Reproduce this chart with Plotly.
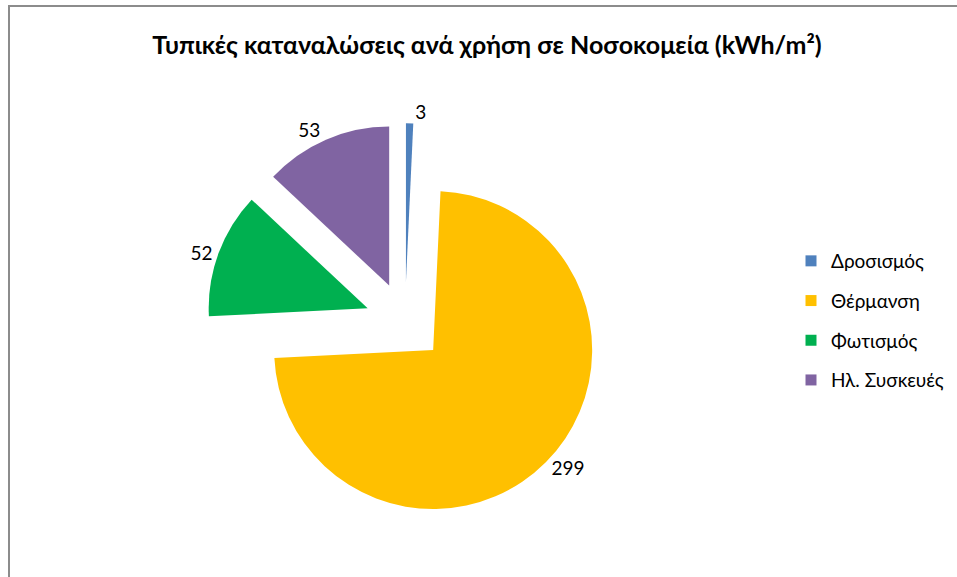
import plotly.graph_objects as go

categories = ["Δροσισμός", "Θέρμανση", "Φωτισμός", "Ηλ. Συσκευές"]
values = [3, 299, 52, 53]
colors = ["#4F81BD", "#FFC000", "#00B050", "#8064A2"]
title_text = "Τυπικές καταναλώσεις ανά χρήση σε Νοσοκομεία (kWh/m²)"

W, H = 957, 577
cx, cy, r, pull = 405, 322, 159, 0.25
half = r * (1 + pull)

fig = go.Figure()
fig.add_trace(go.Pie(
    labels=categories, values=values, sort=False, direction="clockwise", rotation=0,
    marker=dict(colors=colors, line=dict(width=0)),
    pull=[pull] * len(values),
    textinfo="value", textposition="outside",
    textfont=dict(family="Lato", size=19, color="#000000"),
    domain=dict(x=[(cx - half) / W, (cx + half) / W], y=[1 - (cy + half) / H, 1 - (cy - half) / H]),
    showlegend=False, hole=0,
))
for c, col in zip(categories, colors):
    fig.add_trace(go.Scatter(
        x=[None], y=[None], mode="markers", name=c, legendgroup=c,
        marker=dict(symbol="square", size=11, color=col),
    ))

fig.update_layout(
    width=W, height=H, margin=dict(l=0, r=0, t=0, b=0, autoexpand=False),
    paper_bgcolor="white", plot_bgcolor="white",
    title=dict(text=f"<b>{title_text}</b>", x=487 / W, xanchor="center", y=1 - 45 / H, yanchor="middle",
               font=dict(family="Lato", size=25, color="#000000")),
    xaxis=dict(visible=False), yaxis=dict(visible=False),
    legend=dict(x=791 / W, xanchor="left", y=1 - 242 / H, yanchor="top",
                font=dict(family="Lato", size=19, color="#000000"),
                tracegroupgap=12, itemwidth=30, bgcolor="rgba(0,0,0,0)"),
    shapes=[dict(type="rect", xref="paper", yref="paper", x0=9 / W, x1=1.1, y0=-0.1, y1=1 - 6 / H,
                 line=dict(color="#8C8C8C", width=2), fillcolor="rgba(0,0,0,0)", layer="below")],
)
fig.write_html("out.html")
